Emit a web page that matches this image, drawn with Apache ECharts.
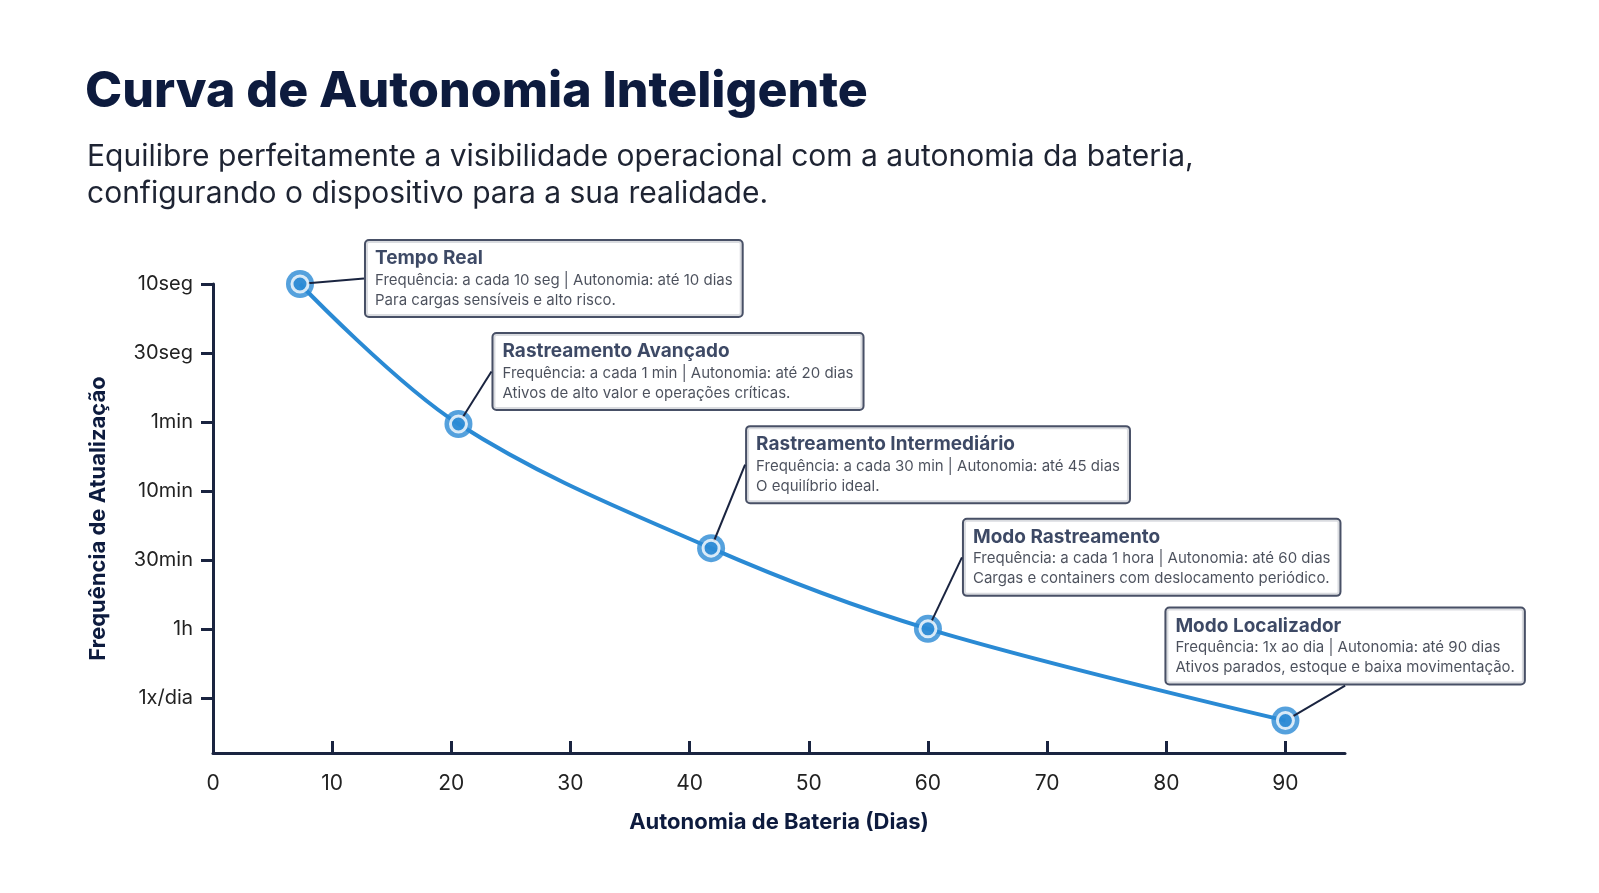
<!DOCTYPE html>
<html><head><meta charset="utf-8">
<script src="https://cdn.jsdelivr.net/npm/echarts@6/dist/echarts.min.js"></script>
<style>html,body{margin:0;padding:0;background:#fff}#c{width:1599px;height:893px}</style>
</head><body><div id="c"></div>
<script>
const yTickLabels = ['1x/dia','1h','30min','10min','1min','30seg','10seg'];
const yTickValues = [1,2,3,4,5,6,7];
const xValues = [7.3, 20.6, 41.8, 60, 90];
const yValues = [7, 4.97, 3.17, 2, 0.67];
const titles = ['Tempo Real','Rastreamento Avançado','Rastreamento Intermediário','Modo Rastreamento','Modo Localizador'];
const line1 = ['Frequência: a cada 10 seg | Autonomia: até 10 dias','Frequência: a cada 1 min | Autonomia: até 20 dias','Frequência: a cada 30 min | Autonomia: até 45 dias','Frequência: a cada 1 hora | Autonomia: até 60 dias','Frequência: 1x ao dia | Autonomia: até 90 dias'];
const line2 = ['Para cargas sensíveis e alto risco.','Ativos de alto valor e operações críticas.','O equilíbrio ideal.','Cargas e containers com deslocamento periódico.','Ativos parados, estoque e baixa movimentação.'];
const labelOffsets = [[66,-43],[35,-90],[36,-121],[36,-109],[-119,-112]];

const pts = xValues.map((x,i)=>[x,yValues[i]]);
const chart = echarts.init(document.getElementById('c'));
const F = 'Inter, "Noto Sans", sans-serif';
chart.setOption({
  backgroundColor:'#fff',
  title:[
    {text:'Curva de Autonomia Inteligente',left:80,top:62,textStyle:{fontFamily:F,fontSize:50,fontWeight:800,color:'#0d1b3e'}},
    {text:'Equilibre perfeitamente a visibilidade operacional com a autonomia da bateria,\nconfigurando o dispositivo para a sua realidade.',left:82,top:133,textStyle:{fontFamily:F,fontSize:30,fontWeight:400,color:'#1e2433',lineHeight:37}}
  ],
  grid:{left:213,right:254,top:284,bottom:140},
  xAxis:{type:'value',min:0,max:95,interval:10,
    name:'Autonomia de Bateria (Dias)',nameLocation:'middle',nameGap:58,
    nameTextStyle:{fontFamily:F,fontSize:22,fontWeight:700,color:'#0d1b3e'},
    axisLine:{lineStyle:{color:'#1a2440',width:3}},
    axisTick:{inside:true,length:12,lineStyle:{color:'#1a2440',width:3}},
    axisLabel:{fontFamily:F,fontSize:21,color:'#222',margin:20,showMaxLabel:false},
    splitLine:{show:false}},
  yAxis:{type:'value',min:0.2,max:7,
    name:'Frequência de Atualização',nameLocation:'middle',nameGap:104,nameRotate:90,
    nameTextStyle:{fontFamily:F,fontSize:22,fontWeight:700,color:'#0d1b3e'},
    axisLine:{show:true,lineStyle:{color:'#1a2440',width:3}},
    axisTick:{show:true,length:12,customValues:yTickValues,lineStyle:{color:'#1a2440',width:3}},
    axisLabel:{fontFamily:F,fontSize:20,color:'#222',margin:20,customValues:yTickValues,
      formatter:v=>yTickLabels[yTickValues.indexOf(Math.round(v))]||''},
    splitLine:{show:false}},
  series:[
    {type:'line',data:pts,smooth:0.35,symbol:'none',lineStyle:{color:'#2a8ad4',width:4},z:2},
    {type:'scatter',data:pts,symbolSize:28,itemStyle:{color:'#2a8ad4'},z:3,silent:true},
    {type:'scatter',data:pts,symbolSize:16,itemStyle:{color:'#2a8ad4',borderColor:'#fff',borderWidth:3},z:4,
      label:{show:true,position:'inside',align:'left',verticalAlign:'top',
        backgroundColor:'#fff',borderColor:'#1a2440',borderWidth:2,borderRadius:3,padding:[6,9,6,9],
        formatter:p=>'{t|'+titles[p.dataIndex]+'}\n{l|'+line1[p.dataIndex]+'}\n{l|'+line2[p.dataIndex]+'}',
        rich:{t:{fontFamily:F,fontSize:19,fontWeight:700,color:'#0d1b3e',lineHeight:23},
              l:{fontFamily:F,fontSize:15,color:'#1e2433',lineHeight:20}}},
      labelLine:{show:true,lineStyle:{color:'#1a2440',width:2}},
      labelLayout:p=>({dx:labelOffsets[p.dataIndex][0],dy:labelOffsets[p.dataIndex][1]})}
  ]
});
</script></body></html>
